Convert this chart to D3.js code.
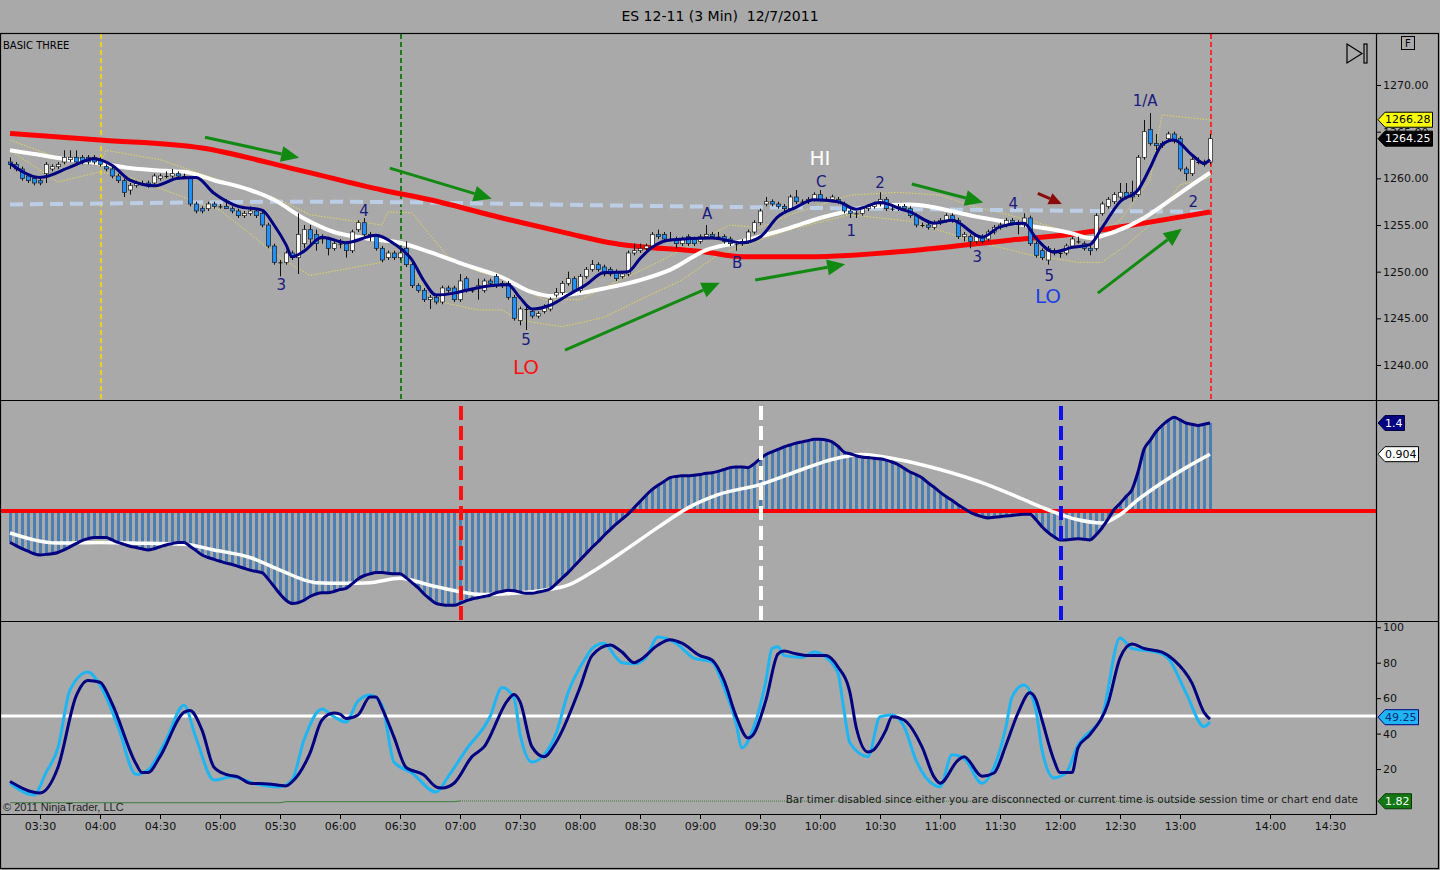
<!DOCTYPE html>
<html>
<head>
  <meta charset="utf-8">
  <title>ES 12-11 (3 Min) 12/7/2011</title>
  <script src="https://d3js.org/d3.v7.min.js"></script>
  <style>
    body {
      margin: 0;
      padding: 0;
      background-color: #a9a9a9;
      overflow: hidden;
    }
    svg { display: block; }
    text { font-family: 'Comic Sans MS', 'DejaVu Sans', sans-serif; }
  </style>
</head>
<body>
  <svg width="1440" height="870"></svg>

  <script>
    // ---- bars: 3 minute ES candles from 03:15 to 13:15 ----
    const sessionStart = "03:15", barMinutes = 3;

    const open = [
      1261.75,1261.5,1261.0,1260.25,1260.0,1259.75,1260.5,1261.0,1261.25,1261.75,
      1262.0,1262.25,1262.25,1262.25,1262.25,1262.0,1261.25,1261.0,1260.25,1259.75,
      1258.75,1259.25,1259.5,1259.5,1259.5,1260.0,1260.25,1260.25,1260.5,1260.25,
      1260.0,1257.25,1256.75,1256.75,1257.25,1257.0,1257.0,1256.75,1256.5,1256.0,
      1256.25,1256.5,1256.25,1255.0,1252.75,1251.0,1251.0,1252.0,1251.5,1253.0,
      1254.5,1254.0,1253.75,1253.5,1252.5,1253.0,1253.0,1252.25,1254.5,1255.25,
      1254.0,1253.75,1252.5,1251.5,1252.0,1251.5,1252.5,1250.75,1248.5,1248.0,
      1247.0,1247.25,1246.75,1248.25,1248.25,1247.0,1249.25,1248.0,1248.25,1248.0,
      1249.0,1249.5,1248.75,1248.75,1247.25,1244.75,1246.0,1245.75,1245.25,1245.75,
      1246.0,1247.5,1247.75,1248.75,1249.25,1248.0,1249.5,1250.25,1250.75,1250.5,
      1250.25,1250.0,1249.5,1249.75,1252.0,1252.25,1252.5,1252.75,1254.0,1254.0,
      1253.5,1253.5,1253.0,1253.75,1253.5,1253.25,1253.75,1254.0,1253.75,1253.75,
      1253.5,1253.0,1253.25,1253.25,1254.25,1255.25,1257.25,1257.5,1257.25,1257.0,
      1256.75,1258.0,1257.5,1257.5,1257.75,1258.25,1257.75,1257.75,1257.75,1257.25,
      1256.5,1256.25,1256.25,1256.75,1257.0,1257.25,1257.75,1256.75,1256.75,1257.0,
      1256.75,1256.0,1255.0,1255.0,1254.75,1255.25,1255.5,1256.0,1255.5,1253.75,
      1253.75,1253.25,1253.75,1253.5,1254.25,1254.75,1255.0,1255.5,1255.25,1255.0,
      1255.75,1253.0,1252.25,1251.25,1252.25,1252.0,1252.0,1252.75,1253.25,1253.0,
      1252.5,1252.5,1256.25,1257.0,1257.5,1258.0,1258.5,1258.5,1258.25,1262.25,
      1265.25,1263.75,1263.5,1264.25,1264.75,1264.25,1261.0,1260.5,1261.75,1261.75,
      1261.75
    ];
    const high = [
      1262.25,1261.75,1261.25,1260.5,1260.25,1260.25,1261.75,1261.5,1261.75,1263.0,
      1263.0,1263.0,1262.5,1262.5,1262.5,1262.25,1261.5,1261.25,1260.5,1260.0,
      1259.5,1259.75,1259.75,1259.75,1260.5,1260.5,1260.75,1261.0,1260.75,1260.5,
      1260.25,1257.5,1257.0,1257.5,1257.5,1257.25,1257.75,1257.0,1256.75,1256.5,
      1257.0,1256.75,1256.5,1255.25,1253.0,1251.25,1252.25,1252.25,1256.25,1255.0,
      1255.0,1254.5,1254.0,1253.75,1253.25,1253.5,1253.25,1254.5,1255.5,1255.75,
      1254.25,1254.0,1252.75,1252.25,1252.25,1252.5,1253.25,1251.0,1248.75,1248.25,
      1247.5,1247.5,1248.5,1248.5,1248.5,1249.75,1249.5,1248.25,1249.25,1249.25,
      1249.25,1249.75,1249.0,1249.0,1247.5,1246.25,1246.5,1246.0,1245.75,1246.5,
      1247.25,1248.25,1249.0,1250.0,1249.5,1249.75,1250.5,1251.25,1251.0,1250.75,
      1250.5,1250.25,1250.0,1252.25,1253.0,1253.0,1253.0,1254.25,1254.5,1254.25,
      1254.25,1253.75,1253.75,1254.0,1253.75,1254.0,1255.0,1254.25,1254.25,1254.0,
      1253.75,1253.25,1253.5,1254.5,1255.5,1256.75,1258.0,1257.75,1257.5,1257.25,
      1258.25,1258.75,1257.75,1258.0,1258.5,1258.75,1258.0,1258.25,1258.0,1257.5,
      1256.75,1256.5,1257.0,1257.25,1257.5,1258.5,1258.0,1257.0,1257.25,1257.25,
      1257.0,1256.25,1255.25,1255.25,1255.5,1255.75,1256.25,1256.25,1255.75,1254.25,
      1254.0,1254.0,1254.0,1254.5,1255.0,1255.25,1255.75,1255.75,1255.5,1256.25,
      1256.0,1253.25,1252.5,1252.75,1252.5,1252.25,1253.0,1253.75,1253.75,1253.25,
      1252.75,1256.25,1257.5,1258.0,1258.5,1259.5,1259.5,1259.75,1262.5,1266.25,
      1267.0,1264.75,1264.0,1265.0,1265.0,1264.5,1261.25,1262.25,1262.25,1262.0,
      1264.75
    ];
    const low = [
      1261.0,1260.75,1259.75,1259.5,1259.25,1259.25,1259.5,1260.75,1261.0,1261.5,
      1261.75,1261.5,1261.5,1261.5,1261.5,1261.25,1260.75,1260.0,1259.5,1258.0,
      1258.25,1259.0,1259.25,1259.0,1259.25,1259.75,1260.0,1260.0,1260.0,1260.0,
      1257.0,1256.25,1256.25,1256.5,1256.75,1256.75,1256.75,1256.25,1255.75,1255.75,
      1256.0,1255.75,1254.75,1252.5,1250.75,1249.5,1250.75,1251.25,1249.75,1252.5,
      1253.0,1252.25,1253.0,1251.75,1252.25,1252.5,1251.5,1252.0,1254.25,1253.75,
      1253.25,1252.25,1251.0,1251.25,1251.25,1251.25,1250.5,1248.25,1247.75,1246.75,
      1246.0,1246.5,1246.5,1247.75,1246.75,1246.75,1247.75,1247.75,1247.0,1247.75,
      1248.5,1248.25,1248.25,1247.0,1244.75,1244.25,1243.75,1245.0,1245.0,1245.5,
      1245.75,1247.25,1247.5,1248.5,1247.75,1247.75,1249.25,1250.0,1250.0,1249.5,
      1249.5,1249.0,1249.25,1249.5,1251.75,1252.0,1252.25,1252.5,1253.5,1253.25,
      1253.25,1252.5,1252.75,1252.75,1252.75,1253.0,1253.5,1253.5,1253.5,1253.0,
      1252.75,1252.25,1252.75,1253.0,1254.0,1255.0,1257.0,1257.0,1256.75,1256.25,
      1256.5,1257.25,1257.25,1257.25,1257.5,1257.5,1257.5,1257.5,1257.25,1256.25,
      1255.75,1255.75,1256.0,1256.5,1256.75,1257.0,1256.5,1256.5,1256.5,1256.5,
      1255.75,1254.75,1254.75,1254.5,1254.5,1255.0,1255.25,1255.25,1253.5,1253.25,
      1252.5,1253.0,1253.0,1253.25,1254.0,1254.5,1254.75,1255.0,1254.0,1254.75,
      1252.75,1251.5,1251.25,1250.75,1251.75,1251.5,1251.75,1252.5,1253.0,1252.25,
      1251.75,1252.25,1256.0,1256.75,1257.25,1257.75,1257.75,1257.5,1258.0,1262.0,
      1263.5,1263.0,1263.25,1264.0,1263.75,1260.75,1259.75,1260.25,1261.5,1261.25,
      1261.5
    ];
    const close = [
      1261.5,1261.0,1260.0,1259.75,1259.5,1259.5,1261.5,1261.25,1261.5,1262.25,
      1262.25,1261.75,1261.75,1261.75,1261.75,1261.5,1261.0,1260.25,1259.75,1258.5,
      1259.25,1259.5,1259.5,1259.25,1260.25,1260.25,1260.25,1260.5,1260.25,1260.25,
      1257.25,1256.5,1256.5,1257.25,1257.0,1257.0,1256.75,1256.5,1256.0,1256.25,
      1256.5,1256.0,1255.0,1252.75,1251.0,1251.0,1252.0,1251.5,1254.0,1254.5,
      1253.5,1253.0,1253.5,1252.5,1253.0,1253.0,1252.25,1254.25,1255.25,1254.0,
      1253.75,1252.5,1251.25,1252.0,1251.5,1252.0,1250.75,1248.5,1248.0,1247.0,
      1247.25,1246.75,1248.25,1248.0,1247.0,1249.0,1248.0,1248.0,1248.5,1249.0,
      1248.75,1248.5,1248.5,1247.25,1245.0,1246.0,1246.0,1245.25,1245.5,1246.25,
      1247.0,1247.75,1248.75,1249.25,1248.0,1249.5,1250.25,1250.75,1250.25,1249.75,
      1249.75,1249.25,1249.75,1252.0,1252.25,1252.5,1252.75,1254.0,1253.75,1253.5,
      1253.5,1253.0,1253.5,1253.0,1253.0,1253.75,1254.0,1253.75,1253.75,1253.25,
      1253.0,1253.0,1253.0,1254.25,1255.25,1256.5,1257.5,1257.25,1257.0,1256.75,
      1258.0,1257.5,1257.5,1257.75,1258.25,1257.75,1257.75,1258.0,1257.5,1256.5,
      1256.25,1256.25,1256.75,1257.0,1257.25,1257.75,1256.75,1256.75,1257.0,1256.75,
      1256.0,1255.0,1255.0,1254.75,1255.25,1255.5,1256.0,1255.5,1253.75,1254.0,
      1253.25,1253.75,1253.25,1254.25,1254.75,1255.0,1255.5,1255.25,1255.0,1255.75,
      1253.0,1251.75,1251.5,1252.5,1252.0,1252.0,1252.75,1253.5,1253.25,1252.5,
      1252.25,1256.0,1257.25,1257.75,1258.25,1258.5,1258.0,1258.0,1262.25,1265.0,
      1263.75,1263.5,1263.75,1264.75,1264.0,1261.0,1260.5,1262.0,1261.75,1261.5,
      1264.25
    ];

    // ---- price panel overlays, [bar index, price] ----
    const fastMA = [[0,1261.6],[5,1260.1],[10,1261.2],[14,1262.1],[17,1261.4],[20,1259.8],[24,1259.2],
      [28,1260.0],[31,1260.1],[34,1258.4],[38,1257.0],[42,1256.6],[44,1255.0],[46,1252.9],[47,1251.6],
      [49,1252.2],[52,1253.7],[56,1253.1],[61,1253.9],[64,1253.0],[67,1251.25],[69,1249.0],[71,1247.5],
      [74,1247.7],[76,1248.0],[80,1248.5],[83,1248.6],[85,1247.2],[87,1246.0],[90,1246.4],[93,1247.5],
      [96,1248.6],[99,1249.9],[103,1250.0],[105,1251.4],[107,1252.6],[110,1253.4],[117,1253.6],
      [122,1253.1],[125,1253.7],[128,1255.9],[131,1256.9],[134,1257.7],[138,1257.5],[141,1256.7],
      [145,1257.4],[149,1256.6],[150,1256.4],[154,1255.2],[157,1255.5],[162,1253.7],[165,1254.8],
      [169,1255.2],[171,1253.6],[174,1252.1],[177,1252.6],[180,1252.9],[182,1254.7],[185,1257.5],
      [188,1258.75],[190,1261.1],[192,1263.6],[194,1264.1],[197,1262.5],[199,1261.6],[200,1262.0]];
    const slowMA = [[0,1263.0],[4,1262.6],[10,1262.0],[15,1261.6],[20,1261.1],[26,1260.8],[29,1260.7],
      [34,1259.8],[40,1258.75],[44,1257.7],[49,1255.7],[54,1254.25],[59,1253.6],[65,1253.1],[70,1252.1],
      [76,1250.7],[82,1249.4],[87,1247.8],[90,1247.4],[95,1247.7],[99,1248.2],[105,1249.1],[110,1250.2],
      [116,1252.3],[121,1253.1],[124,1253.6],[130,1254.7],[135,1255.75],[139,1256.4],[144,1257.0],
      [150,1257.2],[161,1255.9],[169,1255.0],[177,1254.1],[180,1253.6],[184,1254.25],[189,1255.75],
      [193,1257.5],[197,1259.3],[200,1260.6]];
    const longMA = [[0,1264.8],[15,1264.1],[32,1263.25],[48,1260.9],[62,1258.75],[70,1257.7],[82,1255.75],
      [93,1254.1],[100,1253.1],[116,1252.1],[122,1251.6],[133,1251.6],[151,1252.3],[167,1253.4],
      [178,1254.1],[189,1255.2],[200,1256.4]];
    const pivotLine = [[0,1257.2],[15,1257.3],[50,1257.5],[100,1257.1],[150,1256.7],[200,1256.4]];
    const bandUpper = [[0,1264.1],[8,1262.2],[15,1261.4],[16,1263.0],[25,1262.0],[35,1259.8],[45,1257.7],
      [50,1256.1],[62,1255.0],[63,1256.4],[67,1256.3],[73,1251.6],[78,1250.0],[82,1249.4],[89,1247.0],
      [95,1247.0],[100,1248.6],[108,1251.0],[115,1253.4],[120,1255.0],[125,1254.7],[130,1256.1],
      [140,1258.2],[148,1258.5],[155,1258.2],[160,1257.1],[170,1255.5],[175,1254.5],[180,1253.4],
      [185,1255.5],[190,1259.8],[192,1266.8],[200,1266.25]];
    const bandLower = [[0,1263.0],[8,1259.6],[15,1260.7],[20,1260.1],[28,1258.2],[35,1256.6],[45,1251.5],
      [50,1249.6],[62,1251.0],[65,1252.8],[70,1247.0],[78,1245.9],[82,1245.9],[85,1244.8],[92,1244.1],
      [99,1245.1],[105,1247.0],[112,1249.1],[118,1251.8],[125,1253.4],[130,1254.5],[140,1256.1],
      [150,1255.4],[160,1253.4],[170,1251.8],[178,1251.0],[182,1251.0],[186,1252.8],[190,1255.0],
      [195,1259.3],[200,1260.1]];

    // ---- MACD panel ----
    const macd = [
      -0.50,-0.55,-0.60,-0.64,-0.68,-0.70,-0.69,-0.68,-0.66,-0.62,
      -0.57,-0.52,-0.47,-0.44,-0.42,-0.42,-0.42,-0.46,-0.50,-0.53,
      -0.56,-0.58,-0.60,-0.62,-0.60,-0.57,-0.54,-0.52,-0.50,-0.50,
      -0.56,-0.63,-0.70,-0.74,-0.77,-0.80,-0.83,-0.85,-0.88,-0.91,
      -0.94,-0.96,-0.98,-1.08,-1.20,-1.32,-1.42,-1.47,-1.46,-1.42,
      -1.36,-1.32,-1.30,-1.30,-1.28,-1.25,-1.23,-1.16,-1.08,-1.03,
      -1.00,-0.98,-0.98,-0.99,-1.00,-1.00,-1.06,-1.14,-1.22,-1.32,
      -1.40,-1.47,-1.49,-1.50,-1.50,-1.47,-1.43,-1.40,-1.38,-1.36,
      -1.34,-1.30,-1.28,-1.26,-1.27,-1.29,-1.31,-1.31,-1.29,-1.27,
      -1.24,-1.16,-1.07,-0.98,-0.88,-0.78,-0.68,-0.58,-0.49,-0.39,
      -0.30,-0.21,-0.13,-0.05,0.05,0.15,0.25,0.34,0.41,0.47,
      0.53,0.55,0.56,0.56,0.57,0.58,0.60,0.61,0.63,0.66,
      0.69,0.70,0.70,0.69,0.75,0.83,0.90,0.94,0.98,1.02,
      1.05,1.08,1.10,1.12,1.14,1.14,1.13,1.10,1.03,0.94,
      0.91,0.88,0.86,0.85,0.84,0.83,0.81,0.78,0.74,0.68,
      0.62,0.58,0.53,0.45,0.38,0.30,0.23,0.17,0.10,0.04,
      -0.02,-0.06,-0.09,-0.11,-0.10,-0.09,-0.08,-0.07,-0.06,-0.05,
      -0.05,-0.14,-0.25,-0.34,-0.41,-0.46,-0.46,-0.45,-0.44,-0.45,
      -0.46,-0.38,-0.27,-0.13,0.02,0.12,0.23,0.34,0.62,0.98,
      1.12,1.26,1.36,1.44,1.49,1.45,1.40,1.38,1.36,1.38,
      1.40
    ];
    const macdSignal = [[0,-0.35],[8,-0.51],[15,-0.50],[20,-0.51],[29,-0.53],[34,-0.62],[40,-0.74],
      [45,-0.94],[51,-1.14],[56,-1.15],[60,-1.14],[65,-1.07],[70,-1.18],[76,-1.30],[79,-1.33],[85,-1.30],
      [89,-1.26],[93,-1.18],[98,-0.91],[103,-0.59],[108,-0.26],[113,0.05],[118,0.26],[125,0.42],
      [132,0.66],[137,0.82],[142,0.90],[148,0.82],[155,0.66],[162,0.45],[168,0.22],[173,0.02],
      [178,-0.14],[182,-0.19],[185,-0.06],[188,0.18],[192,0.45],[196,0.69],[200,0.904]];

    // ---- stochastics panel ----
    const stochK = [[0,12],[4,5.4],[6,18],[8,32],[10,64.6],[13,74.8],[15,67.4],[18,44],[21,17],[23,19.5],
      [26,36.4],[29,56],[31,37.5],[34,13.8],[37,15.6],[41,11.6],[45,10],[47,13.8],[49,36.4],[52,53.9],
      [54,49.5],[56,46.5],[58,58.4],[60,61.8],[62,56],[64,24],[67,17.8],[71,7],[73,15.6],[76,30.8],
      [80,49.5],[82,66],[84,60],[85,40],[87,24],[89,28],[91,40],[93,63],[96,83],[97,88],[99,91],
      [101,83],[102,80],[104,79.4],[106,83],[108,94.5],[111,91],[114,82.6],[117,80.3],[119,66],[121,46],
      [122,32],[124,44],[126,70],[127,88],[128,89],[129,84],[132,83],[134,86],[136,83],[138,74],[139,53],
      [140,34.7],[143,27],[145,49.5],[147,50.5],[149,44],[151,25],[154,11],[155,10],[157,28],[159,26],
      [162,12],[164,21],[166,44],[167,60.6],[169,67.4],[171,53],[172,30.8],[174,15],[176,17.8],
      [178,33.6],[179,38],[182,49.5],[185,94],[187,88],[191,86],[193,82.6],[196,63],[199,44],[200,46.6]];
    const stochD = [[0,13],[5,6.5],[8,21],[11,61],[13,70],[15,69],[17,57],[21,23],[22,18],[23,18],[25,27],
      [29,52],[30,53],[32,42],[34,21],[36,17],[38,15.6],[40,12],[43,11.6],[46,10.5],[47,12.7],[50,29],
      [52,47.7],[54,51.6],[55,51],[56,48.5],[58,50.5],[60,60.6],[61,60.6],[62,54.4],[64,38],[66,21],
      [69,16.6],[71,10],[72,9.3],[74,12],[77,27],[79,32.5],[83,59],[84,62],[85,58],[87,32.5],[89,27],
      [91,35],[95,66],[97,84],[100,90],[102,86],[104,80],[105,81.5],[108,90],[110,93],[112,91],[115,84],
      [117,81.5],[119,70],[121,50],[123,37.5],[124,40],[126,59],[128,85],[129,86.6],[131,85],[133,84],
      [136,84],[138,77.6],[140,63],[141,44],[143,29.6],[144,31],[146,42],[147,49.5],[149,47.7],
      [152,32.5],[154,15.6],[155,12],[158,25],[159,27],[162,16],[164,17.8],[166,33.6],[168,51.6],
      [170,63],[171,59],[172,47.7],[174,25],[175,18],[177,18],[178,32],[180,39.5],[183,57],[185,82.6],
      [187,90.5],[189,88],[192,86],[194,81.5],[197,68.5],[199,52],[200,48.2]];
    const timerSolid = [[0,1.0],[45,1.0],[46,1.6],[74,1.6],[75,2.0]];
    const timerDotted = [[75,2.0],[200,1.82]];

    // ---- axes ----
    const priceTicks = [1240, 1245, 1250, 1255, 1260, 1265, 1270];
    const stochTicks = [20, 40, 60, 80, 100];
    const timeTicks = ["03:30","04:00","04:30","05:00","05:30","06:00","06:30","07:00","07:30","08:00",
      "08:30","09:00","09:30","10:00","10:30","11:00","11:30","12:00","12:30","13:00","14:00","14:30"];

    // ---- drawing objects ----
    const priceVLines = [{t: "04:00", color: "#e8d21c"}, {t: "06:30", color: "#1d7a1d"}, {t: "13:15", color: "#ff2a2a"}];
    const macdVLines = [{t: "07:00", color: "#ff1010"}, {t: "09:30", color: "#ffffff"}, {t: "12:00", color: "#1010ee"}];
    const arrows = [
      {from: [32.5, 1264.4], to: [48.2, 1262.2], color: "#128a12"},
      {from: [63.3, 1261.1], to: [80.3, 1257.8], color: "#128a12"},
      {from: [92.5, 1241.6], to: [118.3, 1248.8], color: "#128a12"},
      {from: [124.2, 1249.1], to: [139.2, 1250.8], color: "#128a12"},
      {from: [150.3, 1259.4], to: [162.2, 1257.4], color: "#128a12"},
      {from: [181.3, 1247.7], to: [195.3, 1254.6], color: "#128a12"},
      {from: [171.3, 1258.4], to: [175.3, 1257.25], color: "#8b0a0a", small: true}
    ];
    const labels = [
      {i: 45.2, p: 1248.6, text: "3"}, {i: 59, p: 1256.5, text: "4"}, {i: 86, p: 1242.7, text: "5"},
      {i: 86, p: 1239.8, text: "LO", color: "#ff1010", size: 20},
      {i: 116.2, p: 1256.2, text: "A"}, {i: 121.2, p: 1250.9, text: "B"},
      {i: 135, p: 1262.2, text: "HI", color: "#ffffff", size: 20},
      {i: 135.2, p: 1259.6, text: "C"}, {i: 140.2, p: 1254.4, text: "1"}, {i: 145, p: 1259.5, text: "2"},
      {i: 161.2, p: 1251.6, text: "3"}, {i: 167.2, p: 1257.25, text: "4"}, {i: 173.2, p: 1249.5, text: "5"},
      {i: 173, p: 1247.4, text: "LO", color: "#1c3ee6", size: 20},
      {i: 189.2, p: 1268.3, text: "1/A"}, {i: 197.2, p: 1257.5, text: "2"}
    ];

    // ---- scales ----
    const svg = d3.select("svg");
    const right = 1376;
    const pane = {
      price: {top: 34, bottom: 400},
      macd: {top: 401, bottom: 621},
      stoch: {top: 622, bottom: 814}
    };

    const parseT = d3.timeParse("%H:%M");
    const t0 = parseT(sessionStart);
    const barTime = i => new Date(t0.getTime() + i * barMinutes * 60000);

    const x = d3.scaleTime()
        .domain([parseT("03:15"), parseT("13:15"), parseT("14:00"), parseT("14:30")])
        .range([10, 1210, 1270, 1330]);
    const xi = i => x(barTime(i));

    const yP = d3.scaleLinear().domain([1240, 1270]).range([365, 85]);
    const yM = d3.scaleLinear().domain([0, 1.4]).range([511, 423]);
    const yS = d3.scaleLinear().domain([0, 100]).range([804.5, 627.25]);

    // clip each pane
    const defs = svg.append("defs");
    Object.entries(pane).forEach(([k, p]) => {
      defs.append("clipPath").attr("id", "clip-" + k)
        .append("rect").attr("x", 1).attr("y", p.top).attr("width", right - 1).attr("height", p.bottom - p.top);
    });

    const knotLine = (y, curve) => d3.line()
        .x(d => xi(d[0]))
        .y(d => y(d[1]))
        .curve(curve || d3.curveMonotoneX);

    // title
    svg.append("text")
      .attr("x", 720).attr("y", 21)
      .attr("text-anchor", "middle")
      .attr("font-size", "14px")
      .attr("fill", "#000")
      .text("ES 12-11 (3 Min)\u00a0 12/7/2011");

    // ================= price pane =================
    const g1 = svg.append("g").attr("clip-path", "url(#clip-price)");

    g1.selectAll(".vline")
      .data(priceVLines)
      .enter().append("line")
        .attr("x1", d => x(parseT(d.t)) + 1).attr("x2", d => x(parseT(d.t)) + 1)
        .attr("y1", pane.price.top).attr("y2", pane.price.bottom)
        .attr("stroke", d => d.color)
        .attr("stroke-width", 2)
        .attr("stroke-dasharray", "5,3");

    [bandUpper, bandLower].forEach(b => {
      g1.append("path")
        .attr("d", knotLine(yP, d3.curveLinear)(b))
        .attr("fill", "none")
        .attr("stroke", "#e0d75a")
        .attr("stroke-width", 1)
        .attr("stroke-dasharray", "1.5,1.5");
    });

    g1.append("path")
      .attr("d", knotLine(yP)(pivotLine))
      .attr("fill", "none")
      .attr("stroke", "#bccde6")
      .attr("stroke-width", 4)
      .attr("stroke-dasharray", "13,7");

    g1.append("path")
      .attr("d", knotLine(yP)(longMA))
      .attr("fill", "none")
      .attr("stroke", "#ff0000")
      .attr("stroke-width", 5);

    g1.append("path")
      .attr("d", knotLine(yP)(slowMA))
      .attr("fill", "none")
      .attr("stroke", "#ffffff")
      .attr("stroke-width", 4);

    const bars = d3.range(open.length).map(i => ({i, o: open[i], h: high[i], l: low[i], c: close[i]}));

    g1.selectAll(".wick")
      .data(bars)
      .enter().append("line")
        .attr("x1", d => xi(d.i) + 0.5).attr("x2", d => xi(d.i) + 0.5)
        .attr("y1", d => yP(d.h)).attr("y2", d => yP(d.l))
        .attr("stroke", "#111")
        .attr("stroke-width", 1);

    g1.selectAll(".body")
      .data(bars)
      .enter().append("rect")
        .attr("x", d => xi(d.i) - 1.5)
        .attr("y", d => yP(Math.max(d.o, d.c)))
        .attr("width", 4)
        .attr("height", d => Math.max(1, Math.abs(yP(d.o) - yP(d.c))))
        .attr("fill", d => d.c > d.o ? "#ffffff" : (d.c < d.o ? "#1e90ff" : "#111"))
        .attr("stroke", "#1a1a1a")
        .attr("stroke-width", d => d.c === d.o ? 0 : 0.7);

    g1.append("path")
      .attr("d", knotLine(yP)(fastMA))
      .attr("fill", "none")
      .attr("stroke", "#000080")
      .attr("stroke-width", 3);

    function arrow(g, a) {
      const x1 = xi(a.from[0]), y1 = yP(a.from[1]);
      const x2 = xi(a.to[0]), y2 = yP(a.to[1]);
      const len = a.small ? 13 : 18, half = a.small ? 6 : 8;
      const ang = Math.atan2(y2 - y1, x2 - x1);
      const bx = x2 - len * Math.cos(ang), by = y2 - len * Math.sin(ang);
      g.append("line")
        .attr("x1", x1).attr("y1", y1).attr("x2", bx).attr("y2", by)
        .attr("stroke", a.color).attr("stroke-width", 3);
      g.append("path")
        .attr("d", "M" + x2 + "," + y2 +
          "L" + (bx + half * Math.sin(ang)) + "," + (by - half * Math.cos(ang)) +
          "L" + (bx - half * Math.sin(ang)) + "," + (by + half * Math.cos(ang)) + "Z")
        .attr("fill", a.color);
    }
    arrows.forEach(a => arrow(g1, a));

    g1.selectAll(".wave")
      .data(labels)
      .enter().append("text")
        .attr("x", d => xi(d.i))
        .attr("y", d => yP(d.p))
        .attr("text-anchor", "middle")
        .attr("dominant-baseline", "central")
        .attr("font-size", d => (d.size || 15) + "px")
        .attr("fill", d => d.color || "#1a1a80")
        .text(d => d.text);

    svg.append("text")
      .attr("x", 3).attr("y", 49)
      .attr("font-size", "10px")
      .attr("fill", "#000")
      .text("BASIC THREE");

    // ================= MACD pane =================
    const g2 = svg.append("g").attr("clip-path", "url(#clip-macd)");

    g2.selectAll(".hist")
      .data(macd)
      .enter().append("rect")
        .attr("x", (d, i) => xi(i) - 1)
        .attr("y", d => Math.min(yM(0), yM(d)))
        .attr("width", 3)
        .attr("height", d => Math.abs(yM(d) - yM(0)))
        .attr("fill", "#4a7fb6");

    g2.append("line")
      .attr("x1", 0).attr("x2", right)
      .attr("y1", yM(0)).attr("y2", yM(0))
      .attr("stroke", "#ff0000")
      .attr("stroke-width", 4);

    g2.append("path")
      .attr("d", knotLine(yM)(macdSignal))
      .attr("fill", "none")
      .attr("stroke", "#ffffff")
      .attr("stroke-width", 3.5);

    g2.append("path")
      .attr("d", d3.line().x((d, i) => xi(i)).y(d => yM(d)).curve(d3.curveMonotoneX)(macd))
      .attr("fill", "none")
      .attr("stroke", "#000080")
      .attr("stroke-width", 3);

    g2.selectAll(".vline")
      .data(macdVLines)
      .enter().append("line")
        .attr("x1", d => x(parseT(d.t)) + 1).attr("x2", d => x(parseT(d.t)) + 1)
        .attr("y1", pane.macd.top + 5).attr("y2", pane.macd.bottom)
        .attr("stroke", d => d.color)
        .attr("stroke-width", 4)
        .attr("stroke-dasharray", "14,6");

    // ================= stochastics pane =================
    const g3 = svg.append("g").attr("clip-path", "url(#clip-stoch)");

    g3.append("line")
      .attr("x1", 0).attr("x2", right)
      .attr("y1", yS(50)).attr("y2", yS(50))
      .attr("stroke", "#ffffff")
      .attr("stroke-width", 3);

    g3.append("path")
      .attr("d", knotLine(yS, d3.curveLinear)(timerSolid))
      .attr("fill", "none").attr("stroke", "#3b7d3b").attr("stroke-width", 1);
    g3.append("path")
      .attr("d", knotLine(yS, d3.curveLinear)(timerDotted))
      .attr("fill", "none").attr("stroke", "#3b7d3b").attr("stroke-width", 1)
      .attr("stroke-dasharray", "1,1");

    g3.append("path")
      .attr("d", knotLine(yS)(stochK))
      .attr("fill", "none")
      .attr("stroke", "#1fb5f2")
      .attr("stroke-width", 3);

    g3.append("path")
      .attr("d", knotLine(yS)(stochD))
      .attr("fill", "none")
      .attr("stroke", "#000080")
      .attr("stroke-width", 3);

    svg.append("text")
      .attr("x", 3).attr("y", 811)
      .attr("font-size", "11px")
      .attr("fill", "#222")
      .style("font-family", "'Liberation Sans', Arial, sans-serif")
      .text("\u00a9 2011 NinjaTrader, LLC");

    svg.append("text")
      .attr("x", 1358).attr("y", 803)
      .attr("text-anchor", "end")
      .attr("font-size", "10.4px")
      .attr("fill", "#1a1a1a")
      .text("Bar timer disabled since either you are disconnected or current time is outside session time or chart end date");

    // ================= axes =================
    const styleAxis = g => {
      g.select(".domain").remove();
      g.selectAll("line").attr("stroke", "#000");
      g.selectAll("text").attr("fill", "#111").attr("font-size", "11px")
        .attr("font-family", "'Comic Sans MS', 'DejaVu Sans', sans-serif");
    };

    svg.append("g")
      .attr("transform", "translate(" + right + ",0)")
      .call(d3.axisRight(yP).tickValues(priceTicks).tickFormat(d3.format(".2f")).tickSize(5).tickPadding(2))
      .call(styleAxis);

    svg.append("g")
      .attr("transform", "translate(" + right + ",0)")
      .call(d3.axisRight(yS).tickValues(stochTicks).tickFormat(d3.format("d")).tickSize(5).tickPadding(2))
      .call(styleAxis);

    svg.append("g")
      .attr("transform", "translate(0," + pane.stoch.bottom + ")")
      .call(d3.axisBottom(x).tickValues(timeTicks.map(parseT)).tickFormat(d3.timeFormat("%H:%M")).tickSize(5).tickPadding(3))
      .call(styleAxis);

    // ================= frame =================
    const frame = svg.append("g").attr("stroke", "#000").attr("stroke-width", 1.2).attr("fill", "none");
    frame.append("rect").attr("x", 0.5).attr("y", 33.5).attr("width", 1438).attr("height", 835);
    frame.append("line").attr("x1", 0).attr("x2", 1439).attr("y1", 400.5).attr("y2", 400.5);
    frame.append("line").attr("x1", 0).attr("x2", 1439).attr("y1", 621.5).attr("y2", 621.5);
    frame.append("line").attr("x1", right + 0.5).attr("x2", right + 0.5).attr("y1", 33).attr("y2", 814.5);
    frame.append("line").attr("x1", 0).attr("x2", right + 0.5).attr("y1", 814.5).attr("y2", 814.5);

    // "F" box and scroll-to-end icon
    frame.append("rect").attr("x", 1401.5).attr("y", 36.5).attr("width", 13).attr("height", 13).attr("stroke-width", 1);
    svg.append("text").attr("x", 1408).attr("y", 47).attr("text-anchor", "middle")
      .attr("font-size", "10px").attr("fill", "#000").text("F");
    frame.append("path").attr("d", "M1347,44 L1362,53.5 L1347,63 Z").attr("stroke-width", 1.2);
    frame.append("rect").attr("x", 1364).attr("y", 44).attr("width", 3).attr("height", 19).attr("stroke-width", 1.2);

    // ================= value tags on the right =================
    const priceMarkers = [
      {y: yP(1266.28), text: "1266.28", fill: "#ffff00", color: "#000", stroke: "#000"},
      {y: yP(1264.25), text: "1264.25", fill: "#000000", color: "#fff", stroke: "#000"},
      {y: yM(1.4), text: "1.4", fill: "#000080", color: "#fff", stroke: "#000040"},
      {y: yM(0.904), text: "0.904", fill: "#ffffff", color: "#000", stroke: "#000"},
      {y: yS(49.25), text: "49.25", fill: "#1fb5f2", color: "#0a2a7a", stroke: "#000080"},
      {y: yS(1.82), text: "1.82", fill: "#127812", color: "#fff", stroke: "#063806"}
    ];

    priceMarkers.forEach(m => {
      const g = svg.append("g");
      const path = g.append("path");
      const t = g.append("text")
        .attr("x", right + 9).attr("y", m.y)
        .attr("dominant-baseline", "central")
        .attr("font-size", "11px")
        .attr("fill", m.color)
        .text(m.text);
      const w = t.node().getComputedTextLength();
      const x0 = right + 2, x1 = right + 11 + w, h = 7.5;
      path.attr("d", "M" + x0 + "," + m.y + "L" + (x0 + 7) + "," + (m.y - h) + "L" + x1 + "," + (m.y - h) +
                     "L" + x1 + "," + (m.y + h) + "L" + (x0 + 7) + "," + (m.y + h) + "Z")
        .attr("fill", m.fill)
        .attr("stroke", m.stroke)
        .attr("stroke-width", 1);
    });
  </script>
</body>
</html>
